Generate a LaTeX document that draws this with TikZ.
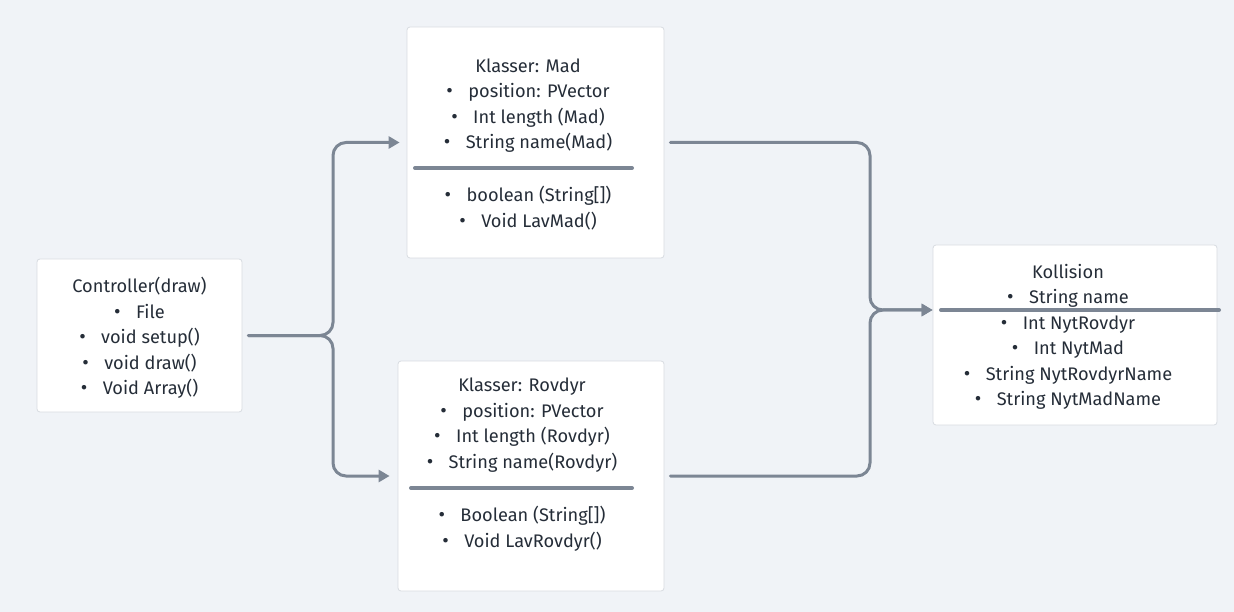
\documentclass[tikz,border=0pt]{standalone}
\usepackage{fontspec}
\setmainfont{Fira Sans}
\usetikzlibrary{arrows.meta}
\definecolor{bg}{HTML}{F0F3F7}
\definecolor{boxline}{HTML}{D8DCE1}
\definecolor{wire}{HTML}{7C8694}
\definecolor{ink}{HTML}{252D38}
\newcommand\itm{{\fontsize{20}{20}\selectfont\textbullet}\hspace{0.85em}}
\tikzset{
  box/.style={draw=boxline, line width=0.8pt, fill=white, rounded corners=3pt, inner sep=0pt},
  lbl/.style={align=center, anchor=north, inner sep=0pt, text=ink},
  conn/.style={draw=wire, line width=3pt, rounded corners=13pt, ->},
  sepline/.style={draw=wire, line width=4pt}
}
\begin{document}
\begin{tikzpicture}[x=1pt, y=-1pt, font=\fontsize{18.2}{25.5}\selectfont, line join=round, line cap=round, >={Triangle[length=11pt,width=12pt]}]
  \useasboundingbox[fill=bg] (0,0) rectangle (1234,612);
  % class boxes
  \node[box, minimum width=205, minimum height=153] (ctrl) at (139.5,335.5) {};
  \node[box, minimum width=257, minimum height=231] (mad) at (535.5,142.5) {};
  \node[box, minimum width=266, minimum height=230] (rov) at (531,476) {};
  \node[box, minimum width=284, minimum height=180] (koll) at (1075,335) {};
  % texts
  \node[lbl] (ctrltxt) at (139.5,277) {Controller(draw)\\\itm File\\\itm void setup()\\\itm void draw()\\\itm Void Array()};
  \node[lbl] (madattr) at (528,58.5) {Klasser: Mad\\\itm position: PVector\\\itm Int length (Mad)\\\itm String name(Mad)};
  \node[lbl] (madmeth) at (528,186) {\itm boolean (String[])\\\itm Void LavMad()};
  \node[lbl] (rovattr) at (522,378) {Klasser: Rovdyr\\\itm position: PVector\\\itm Int length (Rovdyr)\\\itm String name(Rovdyr)};
  \node[lbl] (rovmeth) at (522,506) {\itm Boolean (String[])\\\itm Void LavRovdyr()};
  \node[lbl] (kolltxt) at (1068,264) {Kollision\\\itm String name\\\itm Int NytRovdyr\\\itm Int NytMad\\\itm String NytRovdyrName\\\itm String NytMadName};
  % separators
  \draw[sepline] (415,168) -- (632,168);
  \draw[sepline] (411,488) -- (632,488);
  \draw[sepline] (941,310) -- (1219,310);
  % connectors
  \coordinate (split) at (333,335);
  \coordinate (join) at (870,310);
  \draw[conn, shorten <=6pt, shorten >=7pt] (ctrl.east) -| (split |- mad.west) -- (mad.west);
  \draw[conn, shorten <=6pt, shorten >=8pt] (ctrl.east) -| (split |- rov.west) -- (rov.west);
  \draw[conn, shorten <=6pt] (mad.east) -| (join) -- (koll.west |- join);
  \draw[conn, shorten <=6pt] (rov.east) -| (join) -- (koll.west |- join);
\end{tikzpicture}
\end{document}
